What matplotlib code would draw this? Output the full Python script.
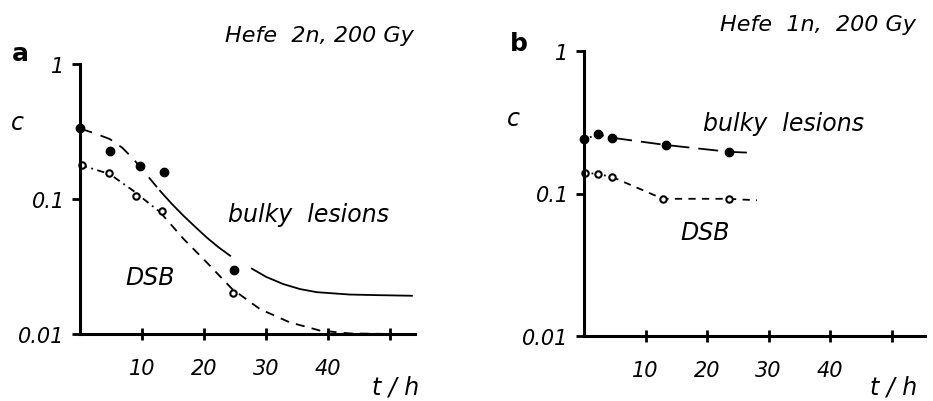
import matplotlib
matplotlib.use("Agg")
import matplotlib.pyplot as plt
from matplotlib.ticker import NullLocator, FixedLocator, FixedFormatter

plt.rcParams['font.family'] = ['DejaVu Sans']

# ---- data (panel a: Hefe 2n) ----
a_bulky_t = [0, 4.8, 9.6, 13.6, 24.9]
a_bulky_c = [0.333, 0.225, 0.175, 0.158, 0.0298]
a_dsb_t = [0.3, 4.6, 9.1, 13.2, 24.6]
a_dsb_c = [0.179, 0.156, 0.105, 0.081, 0.020]
a_fit_bulky_t1 = [0, 2.5, 4.8, 6.8, 8.6, 10.8, 12.9]
a_fit_bulky_c1 = [0.333, 0.305, 0.278, 0.24, 0.198, 0.15, 0.115]
a_fit_bulky_t2 = [12.9, 14.8, 16.7, 18.6, 20.4, 22.3, 24.2]
a_fit_bulky_c2 = [0.115, 0.092, 0.075, 0.062, 0.052, 0.044, 0.038]
a_fit_bulky_t3 = [27.7, 30.0, 32.8, 35.5, 38.2, 43.5, 48.0, 53.5]
a_fit_bulky_c3 = [0.0305, 0.0265, 0.0234, 0.0215, 0.0204, 0.0196, 0.0194, 0.0192]
a_fit_dsb_t1 = [0, 4.8, 8.6, 12.9]
a_fit_dsb_c1 = [0.179, 0.153, 0.115, 0.080]
a_fit_dsb_t2 = [12.9, 16.7, 20.4, 24.5, 29.0, 33.8, 38.7, 43.5, 50.0]
a_fit_dsb_c2 = [0.080, 0.0506, 0.034, 0.0216, 0.0153, 0.0122, 0.0106, 0.0101, 0.0100]

# ---- data (panel b: Hefe 1n) ----
b_bulky_t = [0, 2.3, 4.6, 13.3, 23.6]
b_bulky_c = [0.24, 0.26, 0.246, 0.219, 0.196]
b_dsb_t = [0.2, 2.2, 4.5, 12.8, 23.5]
b_dsb_c = [0.14, 0.137, 0.131, 0.0918, 0.0918]
b_line_bulky_t1 = [0, 2.3, 4.6]
b_line_bulky_c1 = [0.24, 0.26, 0.246]
b_line_bulky_t2 = [4.6, 13.3, 23.6, 27.3]
b_line_bulky_c2 = [0.246, 0.219, 0.196, 0.193]
b_line_dsb_t1 = [0.2, 2.2, 4.5]
b_line_dsb_c1 = [0.14, 0.137, 0.131]
b_line_dsb_t2 = [4.5, 12.8, 23.5, 28.1]
b_line_dsb_c2 = [0.131, 0.0918, 0.0918, 0.0896]

x_ticks = [10, 20, 30, 40, 50]
x_tick_labels = ['10', '20', '30', '40', '']
y_ticks = [0.01, 0.1, 1]
y_tick_labels = ['0.01', '0.1', '1']

W, H = 933, 402
fig = plt.figure(figsize=(W / 100, H / 100), dpi=100)

def px_axes(l, r, b, t):
    return fig.add_axes([l / W, 1 - b / H, (r - l) / W, (b - t) / H])

axa = px_axes(80, 415, 335, 65)
axb = px_axes(584, 925, 337, 52)

TFS = 15
FS = 17
for ax, xmax in ((axa, 54.0), (axb, 55.4)):
    ax.set_yscale('log')
    ax.set_xlim(0, xmax)
    ax.set_ylim(0.01, 1)
    for s in ('top', 'right'):
        ax.spines[s].set_visible(False)
    for s in ('left', 'bottom'):
        ax.spines[s].set_linewidth(2.2)
    ax.yaxis.set_major_locator(FixedLocator(y_ticks))
    ax.yaxis.set_major_formatter(FixedFormatter(y_tick_labels))
    ax.yaxis.set_minor_locator(NullLocator())
    ax.xaxis.set_major_locator(FixedLocator(x_ticks))
    ax.xaxis.set_major_formatter(FixedFormatter(x_tick_labels))
    ax.tick_params(axis='y', direction='out', length=6, width=2, pad=5)
    ax.tick_params(axis='x', direction='inout', length=8, width=2, pad=13)
    for lab in ax.get_xticklabels() + ax.get_yticklabels():
        lab.set_fontstyle('italic')
        lab.set_fontsize(TFS)
    ax.patch.set_alpha(0)

# panel a lines
lw = 1.3
axa.plot(a_fit_bulky_t1, a_fit_bulky_c1, color='black', lw=lw, dashes=(7, 5), clip_on=False)
axa.plot(a_fit_bulky_t2, a_fit_bulky_c2, color='black', lw=lw, clip_on=False)
axa.plot(a_fit_bulky_t3, a_fit_bulky_c3, color='black', lw=lw, clip_on=False)
axa.plot(a_fit_dsb_t1, a_fit_dsb_c1, color='black', lw=lw, dashes=(4, 2.5, 1, 2.5), clip_on=False)
axa.plot(a_fit_dsb_t2, a_fit_dsb_c2, color='black', lw=lw, dashes=(5, 4), clip_on=False)
axa.plot(a_bulky_t, a_bulky_c, 'o', color='black', ms=6, clip_on=False)
axa.plot(a_dsb_t, a_dsb_c, 'o', mfc='white', mec='black', mew=1.5, ms=4.6, clip_on=False)

# panel b lines
axb.plot(b_line_bulky_t1, b_line_bulky_c1, color='black', lw=lw, dashes=(1, 2.5), clip_on=False)
axb.plot(b_line_bulky_t2, b_line_bulky_c2, color='black', lw=lw, dashes=(11, 5), clip_on=False)
axb.plot(b_line_dsb_t1, b_line_dsb_c1, color='black', lw=lw, dashes=(1, 2.5), clip_on=False)
axb.plot(b_line_dsb_t2, b_line_dsb_c2, color='black', lw=lw, dashes=(4, 3.5), clip_on=False)
axb.plot(b_bulky_t, b_bulky_c, 'o', color='black', ms=6, clip_on=False)
axb.plot(b_dsb_t, b_dsb_c, 'o', mfc='white', mec='black', mew=1.5, ms=4.6, clip_on=False)

def ftext(x, y, s, **kw):
    fig.text(x / W, 1 - y / H, s, **kw)

it = dict(fontstyle='italic', fontsize=FS, va='center')
ftext(225, 36, 'Hefe  2n, 200 Gy', ha='left', fontstyle='italic', fontsize=16, va='center')
ftext(720, 25, 'Hefe  1n,  200 Gy', ha='left', fontstyle='italic', fontsize=16, va='center')
ftext(12, 54, 'a', ha='left', va='center', fontsize=18, fontweight='bold')
ftext(510, 44, 'b', ha='left', va='center', fontsize=18, fontweight='bold')
ftext(11, 123, 'c', ha='left', **it)
ftext(507, 119, 'c', ha='left', **it)
ftext(228, 215, 'bulky  lesions', ha='left', **it)
ftext(703, 124, 'bulky  lesions', ha='left', **it)
ftext(125, 278, 'DSB', ha='left', **it)
ftext(680, 233, 'DSB', ha='left', **it)
ftext(372, 388, 't / h', ha='left', **it)
ftext(870, 388, 't / h', ha='left', **it)

fig.savefig('out.png', dpi=100)
